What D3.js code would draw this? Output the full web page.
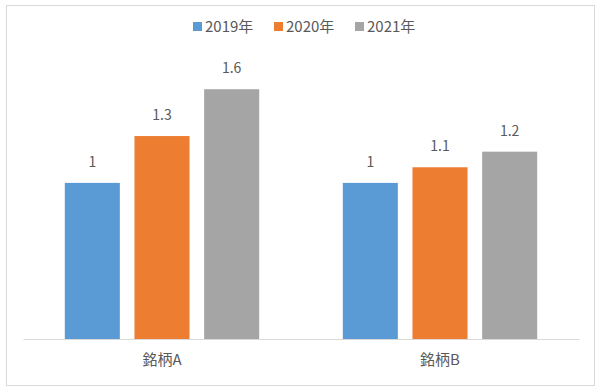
<!DOCTYPE html>
<html lang="ja">
<head>
    <meta charset="UTF-8">
    <title>銘柄別推移</title>
    <script src="https://d3js.org/d3.v7.min.js"></script>
    <style>
        body { margin: 0; background: #fff; }
        text { font-family: "Noto Sans CJK JP", "Noto Sans", sans-serif; fill: #595959; }
    </style>
</head>
<body>
    <div id="chart"></div>
    <script>
        // data
        const categories = ["銘柄A", "銘柄B"];
        const seriesNames = ["2019年", "2020年", "2021年"];
        const values2019 = [1, 1];
        const values2020 = [1.3, 1.1];
        const values2021 = [1.6, 1.2];
        const colors = ["#5B9BD5", "#ED7D31", "#A5A5A5"];

        const seriesValues = [values2019, values2020, values2021];

        const width = 600, height = 392;
        const margin = { top: 58, right: 21, bottom: 53, left: 23 };

        const svg = d3.select("#chart")
            .append("svg")
            .attr("width", width)
            .attr("height", height);

        // outer frame
        svg.append("rect")
            .attr("x", 6.5)
            .attr("y", 5.5)
            .attr("width", 588)
            .attr("height", 380)
            .attr("fill", "#fff")
            .attr("stroke", "#d9d9d9");

        const x0 = d3.scaleBand()
            .domain(categories)
            .range([margin.left, width - margin.right])
            .paddingInner(0)
            .paddingOuter(0);

        const x1 = d3.scaleBand()
            .domain(seriesNames)
            .range([0, x0.bandwidth()])
            .paddingInner(0.21)
            .paddingOuter(0.6);

        const y = d3.scaleLinear()
            .domain([0, 1.8])
            .range([height - margin.bottom, margin.top]);

        // bars
        seriesNames.forEach((name, i) => {
            const g = svg.append("g");
            g.selectAll("rect")
                .data(seriesValues[i])
                .join("rect")
                .attr("x", (d, j) => x0(categories[j]) + x1(name))
                .attr("y", d => y(d))
                .attr("width", x1.bandwidth())
                .attr("height", d => y(0) - y(d))
                .attr("fill", colors[i]);

            g.selectAll("text")
                .data(seriesValues[i])
                .join("text")
                .attr("x", (d, j) => x0(categories[j]) + x1(name) + x1.bandwidth() / 2)
                .attr("y", d => y(d) - 16)
                .attr("text-anchor", "middle")
                .attr("font-size", "14px")
                .text(d => d);
        });

        // category axis
        const xAxis = svg.append("g")
            .attr("transform", `translate(0,${y(0)})`)
            .call(d3.axisBottom(x0).tickSize(0).tickPadding(15));
        xAxis.select(".domain").attr("stroke", "#d9d9d9");
        xAxis.selectAll("text")
            .attr("font-size", "15px")
            .style("font-family", "\"Noto Sans CJK JP\", sans-serif")
            .attr("fill", "#595959");

        // legend
        const legendX = [193, 274, 355];
        const legend = svg.append("g");
        seriesNames.forEach((name, i) => {
            legend.append("rect")
                .attr("x", legendX[i])
                .attr("y", 22)
                .attr("width", 9)
                .attr("height", 9)
                .attr("fill", colors[i]);
            legend.append("text")
                .attr("x", legendX[i] + 12)
                .attr("y", 32)
                .attr("font-size", "15px")
                .text(name);
        });
    </script>
</body>
</html>
